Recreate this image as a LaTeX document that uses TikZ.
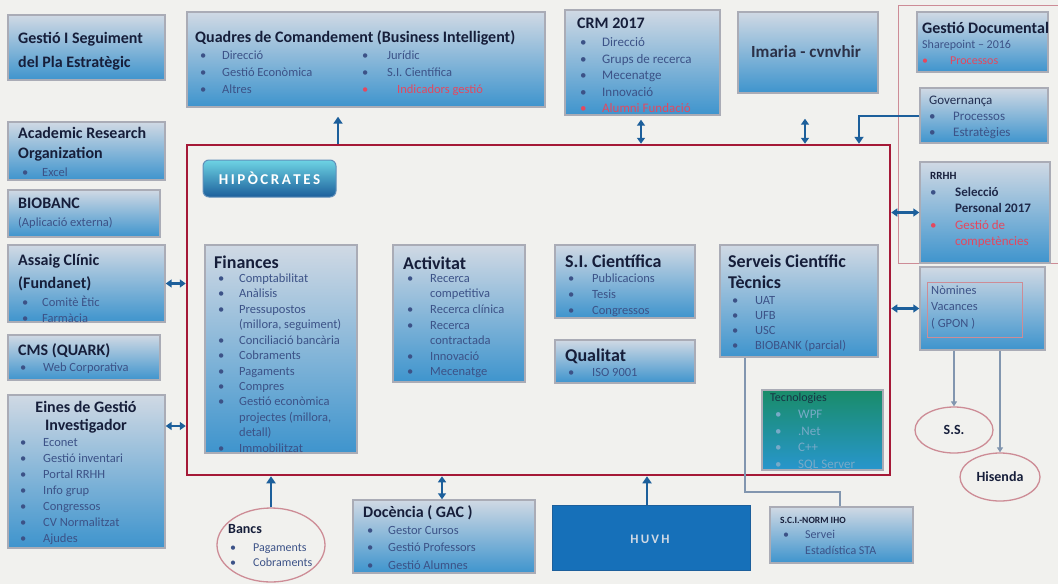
\documentclass[tikz,border=0pt]{standalone}
\usepackage{fontspec}
\setmainfont{Carlito}
\usetikzlibrary{arrows.meta,fit,shapes.geometric}
\definecolor{bg}{RGB}{241,241,238}
\definecolor{boxtop}{RGB}{208,217,228}
\definecolor{boxbot}{RGB}{62,148,205}
\definecolor{edgec}{RGB}{170,172,182}
\definecolor{titlec}{RGB}{22,30,58}
\definecolor{itemc}{RGB}{60,82,135}
\definecolor{redc}{RGB}{228,72,95}
\definecolor{framec}{RGB}{165,25,55}
\definecolor{pinkc}{RGB}{205,140,150}
\definecolor{arrc}{RGB}{28,95,155}
\definecolor{linec}{RGB}{130,150,175}
\definecolor{huvhc}{RGB}{22,112,185}
\definecolor{greenc}{RGB}{25,140,105}
\definecolor{tecbot}{RGB}{40,150,205}
\definecolor{tecitem}{RGB}{120,170,200}
\newlength\bw
\newcommand\bu{\strut\makebox[\bw][l]{\textbullet}}
\newcommand\sk{\strut\hspace*{\bw}}
\newcommand\rd{\color{redc}}
\newcommand\TF[2]{\fontsize{#1}{#2}\selectfont\bfseries}
\newcommand\IF[3]{\fontsize{#1}{#2}\selectfont\setlength\bw{#3}}
\newcommand\bx[6][box]{\node[#1, fit={(#3,#4)(#5,#6)}] (#2) {};}
\begin{document}
\begin{tikzpicture}[x=1pt,y=-1pt,
 box/.style={draw=edgec, line width=1.4pt, top color=boxtop, bottom color=boxbot, inner sep=0pt},
 tecbox/.style={draw=edgec, line width=1.4pt, top color=greenc, bottom color=tecbot, inner sep=0pt},
 huvhbox/.style={draw=arrc, line width=1pt, fill=huvhc, inner sep=0pt},
 framebox/.style={draw=framec, line width=2.5pt, inner sep=0pt},
 tt/.style={anchor=north west, inner sep=0pt, align=left, text=titlec},
 it/.style={anchor=north west, inner sep=0pt, align=left, text=itemc},
 oval/.style={ellipse, draw=pinkc, line width=1.3pt, inner sep=0pt},
 arr/.style={draw=arrc, line width=2.4pt, -{Triangle[length=7pt,width=9pt]}},
 darr/.style={draw=arrc, line width=2.4pt, {Triangle[length=6pt,width=8pt]}-{Triangle[length=6pt,width=8pt]}},
 thinl/.style={draw=linec, line width=1.2pt},
 thinarr/.style={draw=linec, line width=1.5pt, -{Triangle[length=5pt,width=6pt]}},
]
\useasboundingbox (0,0) rectangle (1058,584);
\fill[bg] (0,0) rectangle (1058,584);

% ---------- left column ----------
\bx{gis}{8}{15}{165}{80}
\node[tt, font=\TF{16}{24}] (gis-t) at (18,26.5) {\strut Gestió I Seguiment\\\strut del Pla Estratègic};

\bx{aro}{8}{122}{165}{180}
\node[tt, font=\TF{16}{20}] (aro-t) at (18,124.3) {\strut Academic Research\\\strut Organization};
\node[it, font=\IF{12.5}{16}{20pt}] (aro-i) at (22,164.9) {\bu Excel};

\bx{bio}{8}{190}{160}{237}
\node[tt, font=\TF{16}{20}] (bio-t) at (18,194.3) {\strut BIOBANC};
\node[it, font=\IF{12.5}{16}{20pt}] (bio-i) at (18,214.9) {\strut(Aplicació externa)};

\bx{ac}{8}{245}{165}{322}
\node[tt, font=\TF{16}{23}] (ac-t) at (18,249.2) {\strut Assaig Clínic\\\strut(Fundanet)};
\node[it, font=\IF{12.5}{16}{20pt}] (ac-i) at (22,294.9) {\bu Comitè Ètic\\\bu Farmàcia};

\bx{cms}{8}{335}{160}{380}
\node[tt, font=\TF{16}{20}] (cms-t) at (18,341.3) {\strut CMS (QUARK)};
\node[it, font=\IF{12.5}{16}{23pt}] (cms-i) at (20,359.9) {\bu Web Corporativa};

\bx{eines}{8}{395}{165}{548}
\node[tt, anchor=north, align=center, font=\TF{16}{18}] (eines-t) at (86,399.7) {\strut Eines de Gestió\\\strut Investigador};
\node[it, font=\IF{12.5}{16}{23pt}] (eines-i) at (20,434.9) {\bu Econet\\\bu Gestió inventari\\\bu Portal RRHH\\\bu Info grup\\\bu Congressos\\\bu CV Normalitzat\\\bu Ajudes};

% ---------- top row ----------
\bx{qdc}{187}{12}{545}{107}
\node[tt, font=\TF{16}{20}] (qdc-t) at (195,28.3) {\strut Quadres de Comandement (Business Intelligent)};
\node[it, font=\IF{12.5}{17}{22pt}] (qdc-l) at (200,47.2) {\bu Direcció\\\bu Gestió Econòmica\\\bu Altres};
\node[it, font=\IF{12.5}{17}{25pt}] (qdc-r) at (362,47.2) {\bu Jurídic\\\bu S.I. Científica\\\rd\bu\hspace*{10pt}Indicadors gestió};

\bx{crm}{565}{10}{720}{115}
\node[tt, font=\TF{16}{20}] (crm-t) at (577,14.3) {\strut CRM 2017};
\node[it, font=\IF{13}{16.5}{22pt}] (crm-i) at (580,34.75) {\bu Direcció\\\bu Grups de recerca\\\bu Mecenatge\\\bu Innovació\\\rd\bu Alumni Fundació};

\bx{ima}{738}{12}{878}{93}
\node[font=\TF{17}{20}, text=titlec!80!gray, inner sep=0pt] (ima-t) at (806,52) {Imaria - cvnvhir};

% ---------- right column ----------
\draw[pinkc, line width=1pt] (898,5) rectangle (1062,263);
\bx{gd}{917}{12}{1048}{72}
\node[tt, font=\TF{16}{20}] (gd-t) at (922,19.3) {\strut Gestió Documental};
\node[it, font=\IF{12}{16}{28pt}] (gd-i) at (922,36.9) {\strut Sharepoint – 2016\\\rd\bu Processos};

\bx{gov}{920}{88}{1048}{143}
\node[it, font=\IF{13}{16}{24pt}] (gov-i) at (929,93.1) {\strut{\color{titlec!70!itemc}Governança}\\\bu Processos\\\bu Estratègies};

\bx{rrhh}{920}{162}{1050}{263}
\node[it, font=\IF{13}{16.5}{25pt}] (rrhh-i) at (930,167.75) {\strut{\color{titlec}\bfseries\fontsize{11}{13}\selectfont RRHH}\\\bu{\color{titlec!80!itemc}\bfseries Selecció}\\\sk{\color{titlec!80!itemc}\bfseries Personal 2017}\\\rd\bu Gestió de\\\rd\sk competències};

\bx{nom}{920}{267}{1045}{350}
\draw[pinkc, line width=0.8pt] (927,282) rectangle (1022,337);
\node[it, font=\IF{12.5}{16.5}{25pt}] (nom-i) at (931,282.55) {\strut Nòmines\\\strut Vacances\\\strut( GPON )};

% ---------- main frame ----------
\node[framebox, fit={(187,145)(890,475)}] (frame) {};
\node[draw=arrc!70, line width=1pt, rounded corners=6pt, top color=arrc!45!cyan!60, bottom color=arrc, minimum width=133pt, minimum height=37pt, text=white, font=\fontsize{15}{17}\selectfont\bfseries] (hip) at (269.5,178.5) {H\,I\,P\,Ò\,C\,R\,A\,T\,E\,S};

\bx{fin}{205}{245}{357}{453}
\node[tt, font=\TF{18}{20}] (fin-t) at (214,253.9) {\strut Finances};
\node[it, font=\IF{12.5}{15.45}{21pt}] (fin-i) at (218,271.3) {\bu Comptabilitat\\\bu Anàlisis\\\bu Pressupostos\\\sk(millora, seguiment)\\\bu Conciliació bancària\\\bu Cobraments\\\bu Pagaments\\\bu Compres\\\bu Gestió econòmica\\\sk projectes (millora,\\\sk detall)\\\bu Immobilitzat};

\bx{act}{393}{245}{525}{382}
\node[tt, font=\TF{18}{20}] (act-t) at (403,254.9) {\strut Activitat};
\node[it, font=\IF{12.5}{15.6}{23pt}] (act-i) at (407,271.2) {\bu Recerca\\\sk competitiva\\\bu Recerca clínica\\\bu Recerca\\\sk contractada\\\bu Innovació\\\bu Mecenatge};

\bx{sic}{555}{245}{695}{318}
\node[tt, font=\TF{18}{20}] (sic-t) at (565,252.9) {\strut S.I. Científica};
\node[it, font=\IF{12.5}{16}{24pt}] (sic-i) at (568,270.9) {\bu Publicacions\\\bu Tesis\\\bu Congressos};

\bx{qual}{555}{340}{695}{383}
\node[tt, font=\TF{18}{20}] (qual-t) at (565,346.9) {\strut Qualitat};
\node[it, font=\IF{12.5}{16}{24pt}] (qual-i) at (568,364.9) {\bu ISO 9001};

\bx{sct}{720}{245}{878}{357}
\node[tt, font=\TF{18}{21}] (sct-t) at (728,252.2) {\strut Serveis Científic\\\strut Tècnics};
\node[it, font=\IF{12.5}{15}{23pt}] (sct-i) at (732,293.6) {\bu UAT\\\bu UFB\\\bu USC\\\bu BIOBANK (parcial)};

\bx[tecbox]{tec}{762}{390}{883}{470}
\node[tt, font=\IF{12}{16.5}{23pt}, text=titlec!80!greenc] (tec-t) at (770,389.5) {\strut Tecnologies};
\node[it, font=\IF{13}{16.5}{23pt}, text=tecitem] (tec-i) at (775,406.75) {\bu WPF\\\bu .Net\\\bu C++\\\bu SQL Server};

% ---------- bottom row ----------
\node[oval, minimum width=108pt, minimum height=74pt] (bancs) at (271,545) {};
\node[tt, font=\TF{14}{15}] (bancs-t) at (228,523.1) {\strut Bancs};
\node[it, font=\IF{12}{15.5}{23pt}] (bancs-i) at (230,540.15) {\bu Pagaments\\\bu Cobraments};

\bx{doc}{353}{500}{535}{573}
\node[tt, font=\TF{16}{20}] (doc-t) at (363,503.3) {\strut Docència ( GAC )};
\node[it, font=\IF{12.5}{17.5}{21pt}] (doc-i) at (367,521.85) {\bu Gestor Cursos\\\bu Gestió Professors\\\bu Gestió Alumnes};

\bx[huvhbox]{huvh}{552}{505}{750}{570}
\node[text=boxtop, font=\fontsize{13}{15}\selectfont\bfseries, inner sep=0pt] (huvh-t) at (650,539) {H\,U\,V\,H};

\bx{sci}{770}{507}{913}{563}
\node[it, font=\IF{12}{15.5}{22pt}] (sci-i) at (780,512.15) {\strut{\color{titlec}\bfseries\fontsize{9.5}{11}\selectfont S.C.I.-NORM IHO}\\\hspace*{3pt}\bu Servei\\\hspace*{3pt}\sk Estadística STA};

\node[oval, minimum width=78pt, minimum height=46pt, text=titlec, font=\fontsize{14}{16}\selectfont\bfseries] (ss) at (954,430) {S.S.};
\node[oval, minimum width=80pt, minimum height=48pt, text=titlec, font=\fontsize{14}{16}\selectfont\bfseries] (his) at (1000,477) {Hisenda};

% ---------- connectors ----------
\coordinate (xq) at (338,0);
\coordinate (xc) at (641,0);
\coordinate (xi) at (805,0);
\coordinate (xg) at (859,0);
\coordinate (ye) at (0,426);
\coordinate (xd) at (442,0);
\coordinate (xh) at (647,0);
\coordinate (xs1) at (745,0);
\coordinate (bend) at (745,492);
\coordinate (xs2) at (840,0);

\draw[arr, shorten >=9pt] (frame.north -| xq) -- (qdc.south -| xq);
\draw[darr, shorten >=4pt] (frame.north -| xc) -- (crm.south -| xc);
\draw[darr, shorten >=25pt] (frame.north -| xi) -- (ima.south -| xi);
\draw[arr, line width=2pt] (gov.west) -| (frame.north -| xg);
\draw[darr] (frame.east |- rrhh.west) -- (rrhh.west);
\draw[darr] (frame.east |- nom.west) -- (nom.west);
\draw[darr] (ac.east) -- (frame.west |- ac.east);
\draw[darr] (eines.east |- ye) -- (frame.west |- ye);
\draw[arr] (bancs.north) -- (frame.south -| bancs.north);
\draw[darr] (doc.north -| xd) -- (frame.south -| xd);
\draw[arr] (huvh.north -| xh) -- (frame.south -| xh);
\draw[thinl] (sct.south -| xs1) -- (bend) -| (sci.north -| xs2);
\draw[thinarr] (nom.south -| ss.north) -- (ss.north);
\draw[thinarr] (nom.south -| his.north) -- (his.north);
\end{tikzpicture}
\end{document}
